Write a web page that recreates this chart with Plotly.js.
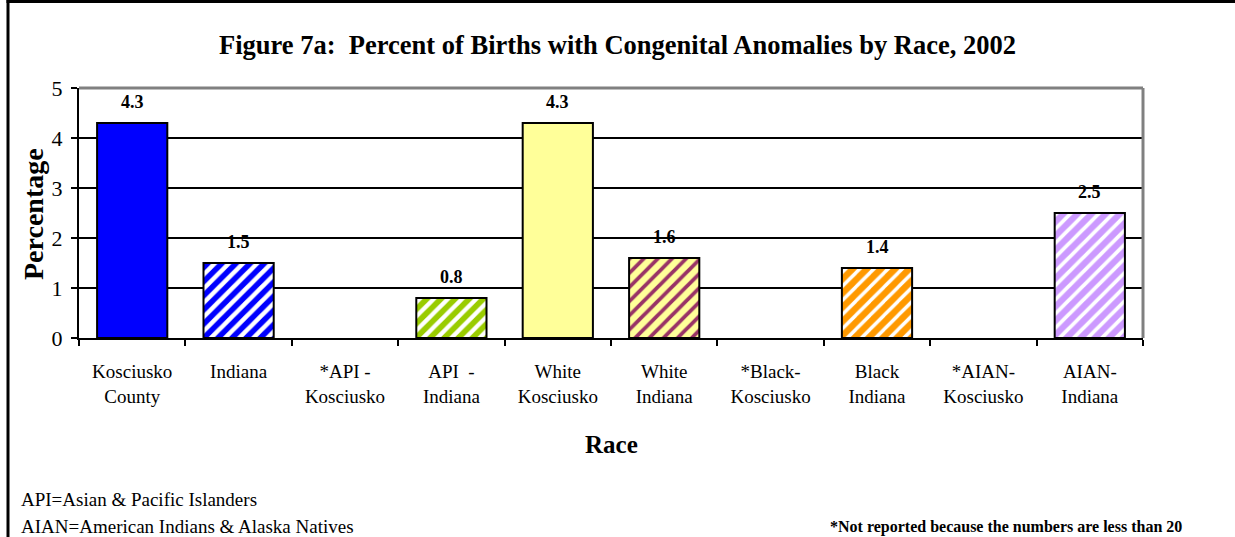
<!DOCTYPE html>
<html>
<head>
<meta charset="utf-8">
<script src="https://cdn.plot.ly/plotly-3.0.1.min.js"></script>
<style>html,body{margin:0;padding:0;background:#fff;}#chart{width:1235px;height:537px;}</style>
</head>
<body>
<div id="chart"></div>
<script>
// ---- data ----
var categories = ["Kosciusko<br>County", "Indiana", "*API -<br>Kosciusko", "API  -<br>Indiana", "White<br>Kosciusko", "White<br>Indiana", "*Black-<br>Kosciusko", "Black<br>Indiana", "*AIAN-<br>Kosciusko", "AIAN-<br>Indiana"];
var percentValues = [4.3, 1.5, null, 0.8, 4.3, 1.6, null, 1.4, null, 2.5];
var valueLabels = ["4.3", "1.5", "", "0.8", "4.3", "1.6", "", "1.4", "", "2.5"];
var yTicks = [0, 1, 2, 3, 4, 5];

// ---- styles ----
var barBg = ["#0000FF", "#0000FF", "#FFFFFF", "#99CC00", "#FFFF99", "#FFFF99", "#FFFFFF", "#FF9900", "#FFFFFF", "#CC99FF"];
var barFg = ["#0000FF", "#FFFFFF", "#FFFFFF", "#FFFFFF", "#FFFF99", "#993366", "#FFFFFF", "#FFFFFF", "#FFFFFF", "#FFFFFF"];
var barShape = ["", "/", "", "/", "", "/", "", "/", "", "/"];
var barSolidity = [0.4, 0.45, 0.4, 0.42, 0.4, 0.38, 0.4, 0.35, 0.4, 0.38];

var FONT = "Liberation Serif, Times New Roman, serif";
var L = 79, R = 92, T = 88, B = 199, W = 1235, H = 537;
var pw = W - L - R, ph = H - T - B;
function px(x) { return (x - L) / pw; }
function py(y) { return (H - B - y) / ph; }

var traces = [];
for (var i = 0; i < categories.length; i++) {
  traces.push({
    type: "bar",
    x: [categories[i]],
    y: [percentValues[i]],
    marker: {
      color: barBg[i],
      line: { color: "#000000", width: 2 },
      pattern: { shape: barShape[i], fillmode: "overlay", fgcolor: barFg[i], fgopacity: 1, size: 10, solidity: barSolidity[i] }
    },
    hoverinfo: "none"
  });
}

var annotations = [];
for (var j = 0; j < categories.length; j++) {
  if (percentValues[j] !== null) {
    annotations.push({
      x: categories[j], y: percentValues[j], xref: "x", yref: "y",
      text: "<b>" + valueLabels[j] + "</b>", showarrow: false,
      yanchor: "bottom", yshift: 9,
      font: { family: FONT, size: 18, color: "#000" }
    });
  }
}
annotations.push({ xref: "paper", yref: "paper", x: px(33), y: py(214), xanchor: "center", yanchor: "middle", textangle: -90,
  text: "<b>Percentage</b>", showarrow: false, font: { family: FONT, size: 28, color: "#000" } });
annotations.push({ xref: "paper", yref: "paper", x: px(611), y: py(444), xanchor: "center", yanchor: "middle",
  text: "<b>Race</b>", showarrow: false, font: { family: FONT, size: 25, color: "#000" } });
annotations.push({ xref: "paper", yref: "paper", x: px(19), y: py(499), xanchor: "left", yanchor: "middle",
  text: "API=Asian & Pacific Islanders", showarrow: false, font: { family: FONT, size: 19, color: "#000" } });
annotations.push({ xref: "paper", yref: "paper", x: px(19), y: py(526), xanchor: "left", yanchor: "middle",
  text: "AIAN=American Indians & Alaska Natives", showarrow: false, font: { family: FONT, size: 19, color: "#000" } });
annotations.push({ xref: "paper", yref: "paper", x: px(1184), y: py(527), xanchor: "right", yanchor: "middle",
  text: "<b>*Not reported because the numbers are less than 20</b>", showarrow: false, font: { family: FONT, size: 16, color: "#000" } });

var layout = {
  width: W, height: H,
  margin: { l: L, r: R, t: T, b: B, pad: 0 },
  paper_bgcolor: "#FFFFFF", plot_bgcolor: "#FFFFFF",
  showlegend: false,
  barmode: "overlay",
  bargap: 0.34,
  font: { family: FONT, color: "#000" },
  title: { text: "<b>Figure 7a:  Percent of Births with Congenital Anomalies by Race, 2002</b>",
    font: { family: FONT, size: 26.5, color: "#000" }, x: 0.5, xanchor: "center", y: 1 - 45 / H, yanchor: "middle" },
  xaxis: {
    type: "category", categoryorder: "array", categoryarray: categories,
    showline: true, linecolor: "#000", linewidth: 2,
    ticks: "outside", tickson: "boundaries", ticklen: 6, tickwidth: 2, tickcolor: "#000",
    ticklabelstandoff: 15,
    tickfont: { family: FONT, size: 19, color: "#000" },
    showgrid: false, zeroline: false, fixedrange: true
  },
  yaxis: {
    range: [0, 5], tickvals: yTicks, ticktext: yTicks.map(String),
    showline: true, linecolor: "#000", linewidth: 2,
    ticks: "outside", ticklen: 6, tickwidth: 2, tickcolor: "#000",
    ticklabelstandoff: 4,
    tickfont: { family: FONT, size: 22, color: "#000" },
    showgrid: true, gridcolor: "#000", gridwidth: 1.5, zeroline: false, fixedrange: true
  },
  shapes: [
    { type: "line", xref: "paper", yref: "paper", x0: 0, x1: 1, y0: 1, y1: 1, line: { color: "#808080", width: 3 }, layer: "above" },
    { type: "line", xref: "paper", yref: "paper", x0: 1, x1: 1, y0: 0, y1: 1, line: { color: "#808080", width: 3 }, layer: "above" },
    { type: "line", xref: "paper", yref: "paper", x0: px(8), x1: px(8), y0: py(0), y1: py(560), line: { color: "#000", width: 3 }, layer: "above" },
    { type: "line", xref: "paper", yref: "paper", x0: px(6.5), x1: px(1260), y0: py(1.5), y1: py(1.5), line: { color: "#000", width: 3 }, layer: "above" }
  ],
  annotations: annotations
};

Plotly.newPlot("chart", traces, layout, { displayModeBar: false, staticPlot: true });
</script>
</body>
</html>
